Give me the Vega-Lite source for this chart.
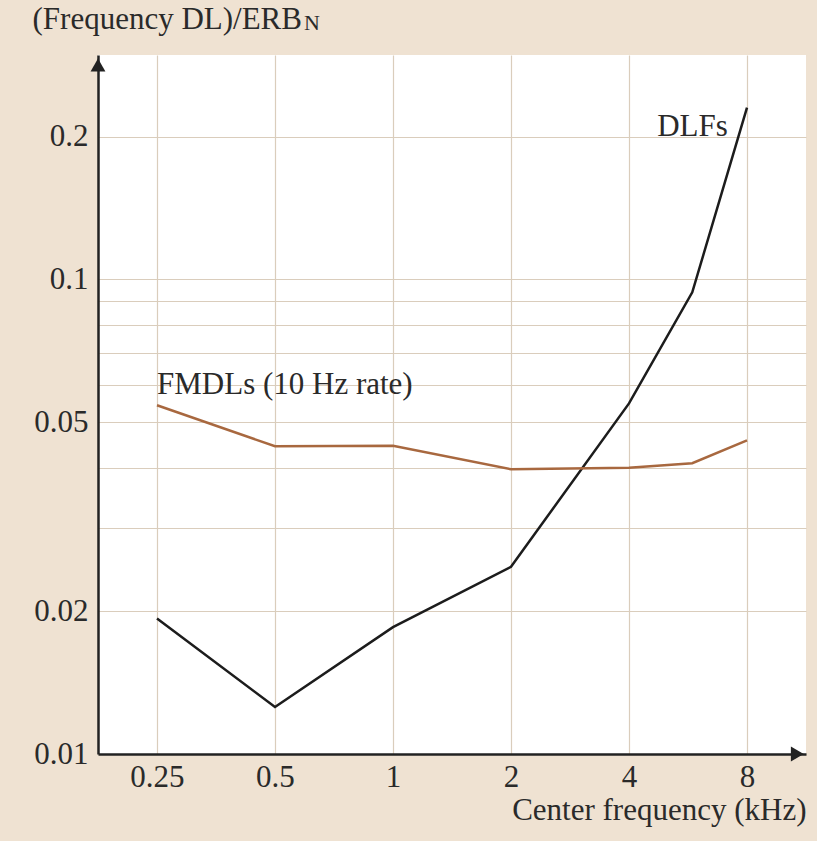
{
  "$schema": "https://vega.github.io/schema/vega-lite/v6.json",
  "width": 708,
  "height": 699,
  "autosize": {"type": "none"},
  "padding": {"left": 98, "top": 55, "right": 11, "bottom": 87},
  "background": "#efe2d2",
  "config": {
    "view": {"stroke": null, "fill": "white"},
    "font": "Liberation Serif"
  },
  "datasets": {
    "curves": [
      {"series": "DLFs", "freq": 0.25, "value": 0.0193},
      {"series": "DLFs", "freq": 0.5, "value": 0.01256},
      {"series": "DLFs", "freq": 1, "value": 0.0185},
      {"series": "DLFs", "freq": 2, "value": 0.0248},
      {"series": "DLFs", "freq": 4, "value": 0.0548},
      {"series": "DLFs", "freq": 5.8, "value": 0.0939},
      {"series": "DLFs", "freq": 8, "value": 0.23},
      {"series": "FMDLs", "freq": 0.25, "value": 0.0543},
      {"series": "FMDLs", "freq": 0.5, "value": 0.0445},
      {"series": "FMDLs", "freq": 1, "value": 0.0446},
      {"series": "FMDLs", "freq": 2, "value": 0.0398},
      {"series": "FMDLs", "freq": 4, "value": 0.0401},
      {"series": "FMDLs", "freq": 5.8, "value": 0.041},
      {"series": "FMDLs", "freq": 8, "value": 0.0458}
    ]
  },
  "layer": [
    {
      "data": {"name": "curves"},
      "mark": {"type": "line", "strokeWidth": 2.5, "clip": false},
      "encoding": {
        "x": {
          "field": "freq", "type": "quantitative",
          "scale": {"type": "log", "base": 2, "domain": [0.17678, 11.3137], "nice": false},
          "axis": {
            "values": [0.25, 0.5, 1, 2, 4, 8],
            "format": "~g",
            "title": "Center frequency (kHz)",
            "titleAnchor": "end",
            "titleFont": "Liberation Serif", "titleFontSize": 31, "titleFontWeight": "normal", "titleColor": "#2a2a2a",
            "titlePadding": 3,
            "labelFont": "Liberation Serif", "labelFontSize": 31, "labelColor": "#2a2a2a",
            "labelPadding": 8,
            "ticks": false,
            "domainColor": "#222222", "domainWidth": 2.5,
            "grid": true, "gridColor": "#dacdbc", "gridWidth": 1.2
          }
        },
        "y": {
          "field": "value", "type": "quantitative",
          "scale": {"type": "log", "domain": [0.01, 0.297], "nice": false},
          "axis": {
            "values": [0.01, 0.02, 0.03, 0.04, 0.05, 0.06, 0.07, 0.08, 0.09, 0.1, 0.2],
            "labelExpr": "datum.value == 0.01 || datum.value == 0.02 || datum.value == 0.05 || datum.value == 0.1 || datum.value == 0.2 ? format(datum.value, '~g') : ''",
            "title": "(Frequency DL)/ERB",
            "titleAngle": 0, "titleAlign": "left", "titleBaseline": "alphabetic",
            "titleX": -66, "titleY": -27,
            "titleFont": "Liberation Serif", "titleFontSize": 31, "titleFontWeight": "normal", "titleColor": "#2a2a2a",
            "labelFont": "Liberation Serif", "labelFontSize": 31, "labelColor": "#2a2a2a",
            "labelPadding": 10,
            "ticks": false,
            "domainColor": "#222222", "domainWidth": 2.5,
            "grid": true, "gridColor": "#dacdbc", "gridWidth": 1.2
          }
        },
        "color": {
          "field": "series", "type": "nominal",
          "scale": {"domain": ["DLFs", "FMDLs"], "range": ["#1c1c1c", "#a8683f"]},
          "legend": null
        }
      }
    },
    {
      "data": {"values": [{"label": "DLFs", "freq": 7.15, "value": 0.209}]},
      "mark": {"type": "text", "align": "right", "baseline": "middle", "fontSize": 31, "font": "Liberation Serif", "color": "#2a2a2a"},
      "encoding": {
        "x": {"field": "freq", "type": "quantitative"},
        "y": {"field": "value", "type": "quantitative"},
        "text": {"field": "label"}
      }
    },
    {
      "data": {"values": [{"label": "FMDLs (10 Hz rate)", "freq": 0.25, "value": 0.06}]},
      "mark": {"type": "text", "align": "left", "baseline": "middle", "fontSize": 31, "font": "Liberation Serif", "color": "#2a2a2a"},
      "encoding": {
        "x": {"field": "freq", "type": "quantitative"},
        "y": {"field": "value", "type": "quantitative"},
        "text": {"field": "label"}
      }
    },
    {
      "data": {"values": [{"label": "N", "freq": 0.593, "value": 0.335}]},
      "mark": {"type": "text", "align": "left", "baseline": "alphabetic", "fontSize": 22, "font": "Liberation Serif", "color": "#2a2a2a", "clip": false},
      "encoding": {
        "x": {"field": "freq", "type": "quantitative"},
        "y": {"field": "value", "type": "quantitative"},
        "text": {"field": "label"}
      }
    },
    {
      "data": {"values": [{"freq": 0.17678, "value": 0.283}]},
      "mark": {"type": "point", "shape": "triangle-up", "filled": true, "size": 220, "color": "#222222", "opacity": 1, "clip": false},
      "encoding": {
        "x": {"field": "freq", "type": "quantitative"},
        "y": {"field": "value", "type": "quantitative"}
      }
    },
    {
      "data": {"values": [{"freq": 10.75, "value": 0.01}]},
      "mark": {"type": "point", "shape": "triangle-right", "filled": true, "size": 220, "color": "#222222", "opacity": 1, "clip": false},
      "encoding": {
        "x": {"field": "freq", "type": "quantitative"},
        "y": {"field": "value", "type": "quantitative"}
      }
    }
  ]
}
